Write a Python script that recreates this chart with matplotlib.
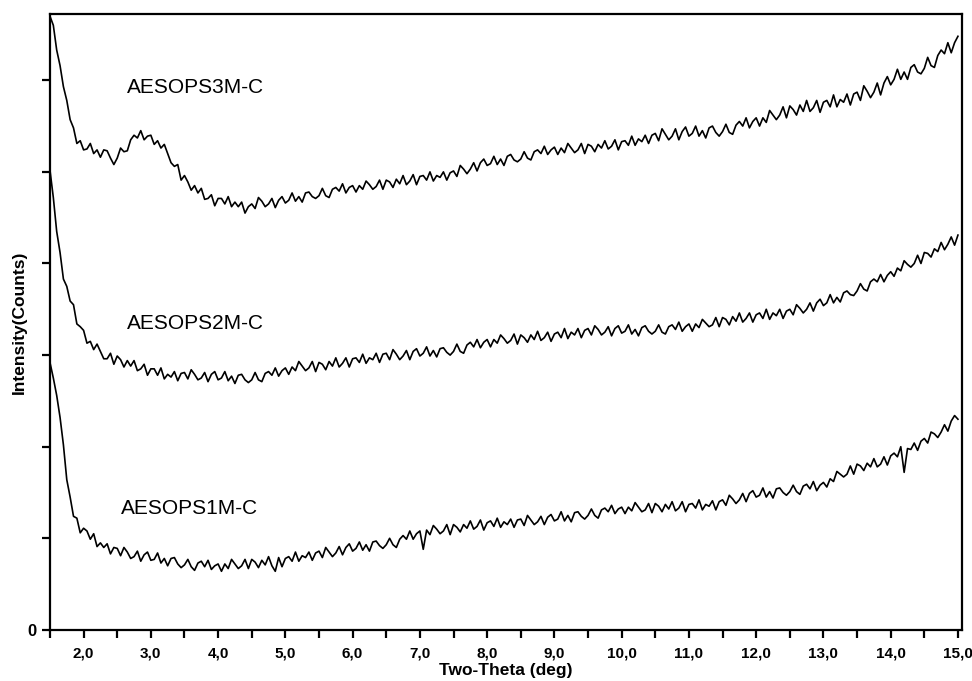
import numpy as np
import matplotlib.pyplot as plt
from matplotlib.ticker import MultipleLocator, FuncFormatter

# two-theta sampling, 0.05 deg steps from 1.5 to 15.0
two_theta = np.linspace(1.5, 15.0, 271)

# intensities (arbitrary counts)
aesops3m = [
    670, 660, 633, 616, 593, 578, 557, 548, 531, 534, 524, 525, 531, 520, 524, 516, 524, 523, 515, 508,
    515, 526, 522, 523, 535, 540, 537, 545, 535, 539, 540, 530, 534, 526, 530, 520, 510, 506, 508, 491,
    496, 489, 480, 485, 477, 482, 470, 471, 475, 463, 471, 471, 465, 473, 462, 467, 462, 467, 455, 462,
    465, 460, 472, 468, 462, 465, 471, 461, 469, 473, 466, 469, 477, 468, 473, 467, 477, 478, 473, 471,
    474, 482, 474, 472, 481, 483, 479, 487, 477, 483, 485, 478, 485, 481, 490, 486, 481, 484, 491, 481,
    491, 489, 483, 492, 487, 496, 486, 490, 497, 486, 495, 496, 491, 500, 490, 496, 494, 500, 491, 499,
    501, 495, 507, 503, 498, 503, 510, 501, 510, 514, 507, 509, 517, 508, 514, 507, 517, 519, 513, 511,
    514, 522, 515, 513, 522, 524, 520, 528, 519, 524, 527, 519, 526, 521, 531, 526, 521, 524, 531, 520,
    530, 528, 522, 530, 526, 534, 525, 528, 535, 524, 533, 534, 529, 539, 529, 536, 533, 540, 531, 540,
    542, 534, 547, 541, 535, 539, 547, 535, 544, 549, 539, 542, 550, 539, 545, 537, 548, 550, 543, 539,
    544, 552, 543, 541, 551, 555, 550, 559, 548, 555, 559, 550, 559, 554, 567, 562, 557, 562, 571, 559,
    572, 568, 562, 573, 566, 578, 566, 570, 578, 565, 576, 578, 571, 584, 571, 579, 576, 585, 573, 585,
    587, 578, 594, 588, 581, 587, 597, 584, 597, 604, 595, 601, 612, 601, 609, 601, 614, 617, 609, 607,
    613, 625, 616, 614, 627, 633, 629, 641, 630, 641, 648,
]
aesops2m = [
    502, 472, 435, 412, 383, 375, 359, 355, 334, 331, 327, 313, 315, 306, 312, 304, 296, 296, 302, 290,
    299, 295, 287, 294, 288, 294, 283, 285, 290, 278, 285, 285, 278, 286, 274, 279, 276, 282, 272, 280,
    281, 274, 284, 279, 273, 275, 281, 271, 279, 282, 273, 275, 282, 272, 277, 269, 278, 279, 273, 270,
    273, 281, 273, 271, 280, 282, 278, 286, 277, 283, 286, 279, 287, 283, 293, 288, 283, 286, 293, 282,
    292, 290, 284, 293, 288, 297, 287, 291, 297, 287, 296, 297, 292, 301, 291, 297, 295, 302, 292, 301,
    302, 295, 306, 301, 295, 299, 305, 295, 304, 307, 299, 302, 309, 299, 305, 298, 307, 308, 303, 300,
    304, 312, 304, 302, 311, 314, 309, 317, 308, 314, 317, 309, 317, 313, 322, 318, 313, 316, 323, 312,
    322, 319, 314, 322, 317, 326, 316, 319, 325, 315, 323, 325, 319, 329, 318, 325, 322, 329, 319, 327,
    329, 322, 332, 328, 322, 325, 331, 321, 329, 332, 324, 326, 333, 323, 328, 321, 330, 332, 326, 323,
    326, 333, 325, 323, 331, 333, 328, 336, 326, 331, 334, 326, 334, 330, 339, 335, 331, 333, 341, 331,
    341, 339, 333, 342, 337, 346, 336, 340, 346, 336, 344, 346, 340, 350, 339, 346, 343, 350, 340, 348,
    350, 344, 355, 351, 346, 350, 357, 348, 357, 361, 354, 357, 366, 357, 363, 358, 368, 370, 366, 365,
    370, 378, 372, 370, 380, 383, 380, 388, 380, 387, 391, 386, 395, 392, 403, 399, 396, 400, 409, 400,
    412, 411, 407, 416, 413, 423, 415, 421, 429, 420, 431,
]
aesops1m = [
    292, 275, 256, 232, 202, 164, 145, 124, 122, 106, 111, 108, 99, 105, 91, 95, 90, 94, 83, 90,
    89, 81, 90, 85, 78, 80, 86, 75, 82, 85, 76, 77, 84, 73, 78, 70, 78, 79, 72, 68,
    71, 77, 69, 65, 73, 75, 69, 76, 66, 70, 72, 64, 72, 67, 77, 72, 67, 70, 77, 67,
    77, 74, 68, 76, 71, 80, 70, 64, 79, 69, 78, 80, 75, 85, 75, 81, 79, 85, 76, 84,
    86, 79, 90, 85, 80, 84, 91, 82, 90, 94, 86, 89, 96, 87, 93, 86, 96, 97, 92, 89,
    93, 100, 93, 90, 99, 103, 99, 108, 99, 105, 108, 88, 109, 104, 114, 110, 105, 108, 115, 104,
    115, 112, 107, 115, 111, 119, 110, 113, 120, 109, 117, 119, 113, 122, 112, 118, 115, 121, 112, 120,
    121, 114, 125, 120, 115, 118, 124, 115, 123, 126, 119, 121, 129, 119, 125, 118, 128, 129, 124, 121,
    125, 132, 125, 122, 131, 133, 129, 136, 127, 132, 134, 127, 134, 130, 139, 134, 129, 131, 138, 128,
    138, 135, 129, 137, 132, 140, 130, 133, 140, 129, 137, 138, 133, 142, 131, 137, 135, 141, 131, 140,
    142, 136, 147, 143, 138, 142, 149, 140, 149, 152, 145, 147, 155, 145, 151, 144, 154, 155, 150, 147,
    151, 158, 151, 148, 157, 159, 154, 162, 152, 158, 161, 156, 165, 162, 173, 170, 167, 170, 179, 170,
    181, 179, 174, 182, 178, 187, 178, 181, 189, 180, 190, 193, 189, 200, 172, 198, 197, 204, 196, 206,
    209, 204, 216, 214, 210, 216, 224, 217, 228, 234, 230,
]

labels = ['AESOPS3M-C', 'AESOPS2M-C', 'AESOPS1M-C']
label_pos = [(3.67, 592), (3.67, 335), (3.58, 133)]

plt.rcParams['font.family'] = ['Liberation Sans', 'DejaVu Sans']

fig = plt.figure(figsize=(9.72, 6.81), dpi=100)
ax = fig.add_axes([0.0514, 0.075, 0.9383, 0.904])

for series in (aesops3m, aesops2m, aesops1m):
    ax.plot(two_theta, series, color='black', lw=1.2)

for txt, (x, y) in zip(labels, label_pos):
    ax.text(x, y, txt, fontsize=15, ha='center', va='center')

ax.set_xlim(1.5, 15.06)
ax.set_ylim(0, 672)

ax.xaxis.set_major_locator(MultipleLocator(1.0))
ax.xaxis.set_minor_locator(MultipleLocator(0.5))
ax.xaxis.set_major_formatter(FuncFormatter(lambda v, p: ('%.1f' % v).replace('.', ',')))
ax.yaxis.set_major_locator(MultipleLocator(100))
ax.yaxis.set_major_formatter(FuncFormatter(lambda v, p: '0' if v == 0 else ''))

ax.tick_params(which='both', direction='out', length=6, width=1.6, color='black')
ax.tick_params(axis='x', labelsize=11, pad=6)
ax.tick_params(axis='y', labelsize=12, pad=4)
for lab in ax.get_xticklabels() + ax.get_yticklabels():
    lab.set_fontweight('bold')

for sp in ax.spines.values():
    sp.set_linewidth(1.6)

ax.set_xlabel('Two-Theta (deg)', fontsize=12.5, fontweight='bold', labelpad=2)
ax.set_ylabel('Intensity(Counts)', fontsize=12.5, fontweight='bold')
ax.yaxis.set_label_coords(-0.025, 0.5)

plt.savefig('out.png', dpi=100)
